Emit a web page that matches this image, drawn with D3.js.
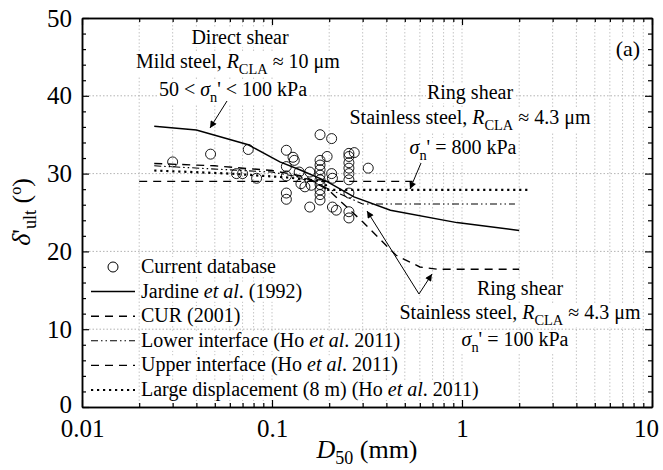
<!DOCTYPE html>
<html>
<head>
<meta charset="utf-8">
<script src="https://cdn.jsdelivr.net/npm/d3@7"></script>
<style>
  body { margin: 0; background: #fff; }
  svg text { font-family: "Liberation Serif", "Times New Roman", "DejaVu Serif", serif; }
</style>
</head>
<body>
<svg id="chart" width="663" height="470"></svg>
<script>
// current database (open circles)
const dbD50 = [0.030, 0.0475, 0.075, 0.065, 0.070, 0.083,
  0.119, 0.129, 0.131, 0.119, 0.119, 0.119, 0.119,
  0.139, 0.142, 0.149, 0.158, 0.161, 0.158,
  0.179, 0.206,
  0.179, 0.179, 0.179, 0.179, 0.179, 0.179, 0.179, 0.179, 0.179,
  0.195, 0.206, 0.208, 0.208, 0.218,
  0.254, 0.254, 0.254, 0.254, 0.254, 0.254, 0.254, 0.254, 0.254,
  0.271, 0.321];
const dbDelta = [31.5, 32.5, 33.1, 30.0, 30.0, 29.4,
  33.0, 32.1, 31.7, 30.9, 29.7, 27.5, 26.7,
  30.2, 28.7, 28.3, 30.2, 28.5, 25.7,
  35.0, 34.5,
  31.7, 31.1, 30.5, 29.8, 29.2, 28.6, 27.9, 27.3, 26.6,
  32.2, 30.0, 29.4, 25.7, 25.3,
  32.6, 32.2, 31.4, 30.7, 30.0, 29.2, 27.5, 25.1, 24.3,
  32.7, 30.7];

// curves
const jardineD50 = [0.024, 0.04, 0.075, 0.11, 0.14, 0.194, 0.27, 0.42, 0.94, 2.0];
const jardineDelta = [36.1, 35.6, 33.7, 31.5, 30.5, 29.0, 27.0, 25.3, 23.7, 22.7];
const curD50 = [0.02, 0.55];
const curDelta = [29.0, 29.0];
const lowerD50 = [0.024, 0.1, 0.15, 0.2, 0.3, 1.9];
const lowerDelta = [31.0, 30.2, 29.4, 28.0, 26.1, 26.1];
const upperD50 = [0.024, 0.05, 0.1, 0.15, 0.2, 0.3, 0.45, 0.6, 0.75, 2.0];
const upperDelta = [31.3, 31.0, 30.4, 29.6, 27.8, 23.8, 19.5, 18.0, 17.7, 17.7];
const largeD50 = [0.024, 0.06, 0.12, 0.19, 0.195, 2.25];
const largeDelta = [30.4, 30.0, 29.5, 29.0, 27.9, 27.9];

// axes
const xMajor = [0.01, 0.1, 1, 10];
const xMajorLabels = ["0.01", "0.1", "1", "10"];
const yMajor = [0, 10, 20, 30, 40, 50];

const FONT = '"Liberation Serif", "Times New Roman", "DejaVu Serif", serif';
const svg = d3.select('#chart').attr('font-family', FONT);
const mLeft = 82, mRight = 652, mTop = 18, mBottom = 407;

const x = d3.scaleLog().domain([0.01, 10]).range([mLeft, mRight]);
const y = d3.scaleLinear().domain([0, 50]).range([mBottom, mTop]);

let xMinor = [];
[0.01, 0.1, 1].forEach(d => { for (let k = 2; k <= 9; k++) xMinor.push(+(d * k).toPrecision(3)); });
let yMinor = d3.range(0, 51, 2).filter(v => v % 10 !== 0);

// grid
const grid = svg.append('g');
grid.selectAll('line.gx')
  .data(xMinor.concat([0.1, 1]))
  .enter().append('line')
  .attr('x1', d => x(d)).attr('x2', d => x(d))
  .attr('y1', mTop).attr('y2', mBottom)
  .attr('stroke', '#b8b8b8').attr('stroke-width', 0.8)
  .attr('stroke-dasharray', '1.5,2');
grid.selectAll('line.gy')
  .data([10, 20, 30, 40])
  .enter().append('line')
  .attr('x1', mLeft).attr('x2', mRight)
  .attr('y1', d => y(d)).attr('y2', d => y(d))
  .attr('stroke', '#a0a0a0').attr('stroke-width', 0.8)
  .attr('stroke-dasharray', '1.5,2');

// text helper with white background
const textLayer = svg.append('g');
function label(g, px, py, parts, size, anchor) {
  const grp = g.append('g');
  const t = grp.append('text')
    .attr('x', px).attr('y', py)
    .attr('font-size', size)
    .attr('text-anchor', anchor || 'start');
  let shift = 0;
  parts.forEach(p => {
    const s = t.append('tspan').text(p.t);
    if (p.i) s.attr('font-style', 'italic');
    const want = p.sub ? size * 0.3 : 0;
    if (want !== shift) { s.attr('dy', want - shift); shift = want; }
    if (p.sub) s.attr('font-size', size * 0.72);
  });
  const b = t.node().getBBox();
  grp.insert('rect', 'text')
    .attr('x', b.x - 1).attr('y', b.y + 2)
    .attr('width', b.width + 2).attr('height', b.height - 3)
    .attr('fill', '#fff');
  return grp;
}

// curves
const line = d3.line().x(d => x(d[0])).y(d => y(d[1]));
const curves = [
  { xs: jardineD50, ys: jardineDelta, dash: null, w: 1.5 },
  { xs: curD50, ys: curDelta, dash: '8,6', w: 1.4 },
  { xs: lowerD50, ys: lowerDelta, dash: '7,3,1.5,3,1.5,3', w: 1.1 },
  { xs: upperD50, ys: upperDelta, dash: '8,6', w: 1.4 },
  { xs: largeD50, ys: largeDelta, dash: '2.2,3.8', w: 2.2 }
];

// annotations
const ann = 20;
label(textLayer, 240, 44, [{ t: 'Direct shear' }], ann, 'middle');
label(textLayer, 238, 68, [{ t: 'Mild steel, ' }, { t: 'R', i: true }, { t: 'CLA', sub: true }, { t: ' ≈ 10 μm' }], ann, 'middle');
label(textLayer, 233, 96, [{ t: '50 < ' }, { t: 'σ', i: true }, { t: 'n', sub: true }, { t: '\' < 100 kPa' }], ann, 'middle');
label(textLayer, 470, 99, [{ t: 'Ring shear' }], ann, 'middle');
label(textLayer, 470, 124, [{ t: 'Stainless steel, ' }, { t: 'R', i: true }, { t: 'CLA', sub: true }, { t: ' ≈ 4.3 μm' }], ann, 'middle');
label(textLayer, 463, 154, [{ t: 'σ', i: true }, { t: 'n', sub: true }, { t: '\' = 800 kPa' }], ann, 'middle');
label(textLayer, 520, 295, [{ t: 'Ring shear' }], ann, 'middle');
label(textLayer, 520, 319, [{ t: 'Stainless steel, ' }, { t: 'R', i: true }, { t: 'CLA', sub: true }, { t: ' ≈ 4.3 μm' }], ann, 'middle');
label(textLayer, 515, 346, [{ t: 'σ', i: true }, { t: 'n', sub: true }, { t: '\' = 100 kPa' }], ann, 'middle');
label(textLayer, 628, 56, [{ t: '(a)' }], 22, 'middle');

// legend
const legendRows = [
  { name: [{ t: 'Current database' }], type: 'circle' },
  { name: [{ t: 'Jardine ' }, { t: 'et al', i: true }, { t: '. (1992)' }], c: 0 },
  { name: [{ t: 'CUR (2001)' }], c: 1 },
  { name: [{ t: 'Lower interface (Ho ' }, { t: 'et al', i: true }, { t: '. 2011)' }], c: 2 },
  { name: [{ t: 'Upper interface (Ho ' }, { t: 'et al', i: true }, { t: '. 2011)' }], c: 3 },
  { name: [{ t: 'Large displacement (8 m) (Ho ' }, { t: 'et al', i: true }, { t: '. 2011)' }], c: 4 }
];
const legend = svg.append('g');
legendRows.forEach((r, i) => {
  const ly = 267 + i * 24.6;
  label(legend, 141, ly + 6, r.name, 20, 'start');
  if (r.type === 'circle') {
    legend.append('circle').attr('cx', 113).attr('cy', ly).attr('r', 5)
      .attr('fill', '#fff').attr('stroke', '#000').attr('stroke-width', 1);
  } else {
    const c = curves[r.c];
    legend.append('line').attr('x1', 91).attr('x2', 135).attr('y1', ly).attr('y2', ly)
      .attr('stroke', '#000').attr('stroke-width', c.w)
      .attr('stroke-dasharray', c.dash);
  }
});

const plot = svg.append('g');
curves.forEach(c => {
  plot.append('path')
    .datum(c.xs.map((v, i) => [v, c.ys[i]]))
    .attr('d', line)
    .attr('fill', 'none').attr('stroke', '#000')
    .attr('stroke-width', c.w)
    .attr('stroke-dasharray', c.dash);
});

plot.selectAll('circle.db')
  .data(dbD50.map((v, i) => [v, dbDelta[i]]))
  .enter().append('circle')
  .attr('cx', d => x(d[0])).attr('cy', d => y(d[1])).attr('r', 5)
  .attr('fill', 'none').attr('stroke', '#000').attr('stroke-width', 0.9);

// arrows
svg.append('defs').append('marker')
  .attr('id', 'ah').attr('viewBox', '0 0 10 10').attr('refX', 10).attr('refY', 5)
  .attr('markerWidth', 9).attr('markerHeight', 7).attr('markerUnits', 'userSpaceOnUse')
  .attr('orient', 'auto')
  .append('path').attr('d', 'M0,0L10,5L0,10z').attr('fill', '#000');
const arrows = [
  [[227, 101], [210, 128]],
  [[421, 163], [410, 189]],
  [[419, 294], [367, 211]],
  [[419, 294], [432, 274]]
];
arrows.forEach(a => {
  svg.append('line')
    .attr('x1', a[0][0]).attr('y1', a[0][1]).attr('x2', a[1][0]).attr('y2', a[1][1])
    .attr('stroke', '#000').attr('stroke-width', 1)
    .attr('marker-end', 'url(#ah)');
});

// axes
const axes = svg.append('g');
function ax(gen, tx, ty) {
  const g = axes.append('g').attr('transform', `translate(${tx},${ty})`).call(gen)
    .attr('font-family', FONT);
  g.select('.domain').attr('stroke-width', 1.5);
  g.selectAll('.tick line').attr('stroke-width', 1.2);
  return g;
}
const fmt = d => xMajorLabels[xMajor.indexOf(d)];
ax(d3.axisBottom(x).tickValues(xMajor).tickFormat(fmt).tickSizeInner(-7).tickSizeOuter(0).tickPadding(12), 0, mBottom)
  .selectAll('text').attr('font-size', 25).attr('fill', '#000')
  .attr('dx', d => d === 10 ? -6 : 0);
ax(d3.axisBottom(x).tickValues(xMinor).tickFormat('').tickSizeInner(-4).tickSizeOuter(0), 0, mBottom);
ax(d3.axisTop(x).tickValues(xMajor).tickFormat('').tickSizeInner(-7).tickSizeOuter(0), 0, mTop);
ax(d3.axisTop(x).tickValues(xMinor).tickFormat('').tickSizeInner(-4).tickSizeOuter(0), 0, mTop);
ax(d3.axisLeft(y).tickValues(yMajor).tickSizeInner(-7).tickSizeOuter(0).tickPadding(10), mLeft, 0)
  .selectAll('text').attr('font-size', 25).attr('fill', '#000')
  .attr('dy', d => d === 0 ? '0.2em' : '0.32em');
ax(d3.axisLeft(y).tickValues(yMinor).tickFormat('').tickSizeInner(-4).tickSizeOuter(0), mLeft, 0);
ax(d3.axisRight(y).tickValues(yMajor).tickFormat('').tickSizeInner(-7).tickSizeOuter(0), mRight, 0);
ax(d3.axisRight(y).tickValues(yMinor).tickFormat('').tickSizeInner(-4).tickSizeOuter(0), mRight, 0);

// axis titles
const xt = svg.append('text').attr('x', 367).attr('y', 458).attr('text-anchor', 'middle').attr('font-size', 26);
xt.append('tspan').attr('font-style', 'italic').text('D');
xt.append('tspan').attr('font-size', 18).attr('dy', 6).text('50');
xt.append('tspan').attr('dy', -6).text(' (mm)');

const yt = svg.append('text').attr('transform', 'translate(30,212) rotate(-90)').attr('text-anchor', 'middle').attr('font-size', 26);
yt.append('tspan').attr('font-style', 'italic').text('δ');
yt.append('tspan').text('\'');
yt.append('tspan').attr('font-size', 18).attr('dy', 6).text('ult');
yt.append('tspan').attr('dy', -6).text(' (');
yt.append('tspan').attr('font-size', 16).attr('dy', -9).text('o');
yt.append('tspan').attr('dy', 9).text(')');
</script>
</body>
</html>
